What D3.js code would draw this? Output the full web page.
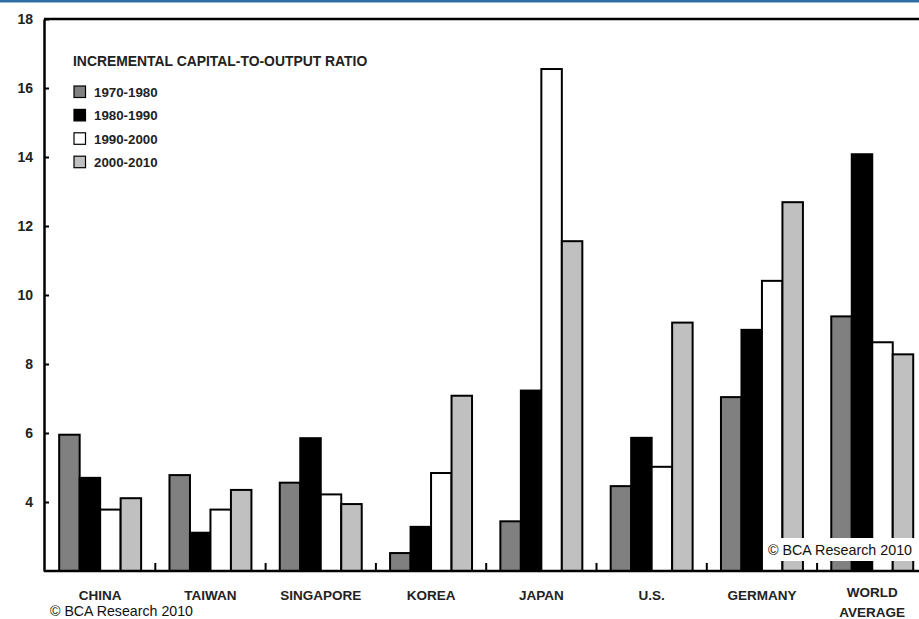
<!DOCTYPE html>
<html>
<head>
<meta charset="utf-8">
<script src="https://cdn.jsdelivr.net/npm/d3@7"></script>
<style>
  html, body { margin: 0; padding: 0; background: #fff; }
  svg { display: block; font-family: "Liberation Sans", Arial, sans-serif; }
</style>
</head>
<body>
<svg id="chart" width="919" height="619"></svg>
<script>
// Incremental capital-to-output ratio by decade
const categories = ["CHINA", "TAIWAN", "SINGAPORE", "KOREA", "JAPAN", "U.S.", "GERMANY", "WORLD AVERAGE"];
const periods = ["1970-1980", "1980-1990", "1990-2000", "2000-2010"];
const s1970 = [5.95, 4.78, 4.56, 2.52, 3.44, 4.46, 7.04, 9.38];
const s1980 = [4.70, 3.11, 5.85, 3.28, 7.23, 5.86, 8.99, 14.08];
const s1990 = [3.78, 3.78, 4.22, 4.84, 16.55, 5.02, 10.41, 8.63];
const s2000 = [4.11, 4.35, 3.94, 7.08, 11.56, 9.20, 12.69, 8.28];
const yTicks = [4, 6, 8, 10, 12, 14, 16, 18];
const fills = ["#808080", "#000000", "#ffffff", "#c0c0c0"];
const legendTitle = "INCREMENTAL CAPITAL-TO-OUTPUT RATIO";
const credit = "\u00A9 BCA Research 2010";

const seriesList = [s1970, s1980, s1990, s2000];
const rows = categories.map((c, i) => ({ cat: c, vals: seriesList.map(s => s[i]) }));

const svg = d3.select("#chart");
const plotLeft = 44, plotTop = 19, plotBase = 571;

const x0 = d3.scaleBand().domain(categories).range([45, 927.4])
  .paddingInner(0.257).paddingOuter(0.1285);
const x1 = d3.scaleBand().domain(periods).range([0, x0.bandwidth()]);
const y = d3.scaleLinear().domain([2, 18]).range([plotBase, plotTop]);

// header rule
svg.append("rect").attr("x", 0).attr("y", 0).attr("width", 919).attr("height", 2.5).attr("fill", "#2f6ea5");

// bars
const groups = svg.append("g").selectAll("g").data(rows).join("g")
  .attr("transform", d => `translate(${x0(d.cat)},0)`);
groups.selectAll("rect").data(d => d.vals.map((v, k) => ({ v, k }))).join("rect")
  .attr("x", d => x1(periods[d.k]))
  .attr("y", d => y(d.v))
  .attr("width", x1.bandwidth())
  .attr("height", d => y(2) - y(d.v))
  .attr("fill", d => fills[d.k])
  .attr("stroke", "#000")
  .attr("stroke-width", 2);

// frame top line
svg.append("line").attr("x1", plotLeft).attr("x2", 919).attr("y1", plotTop).attr("y2", plotTop)
  .attr("stroke", "#000").attr("stroke-width", 2.5);

// y axis
const yAxis = svg.append("g").attr("transform", `translate(${plotLeft},0)`)
  .call(d3.axisLeft(y).tickValues(yTicks).tickSizeInner(-5).tickSizeOuter(0).tickPadding(11));
yAxis.select(".domain").attr("stroke", "#000").attr("stroke-width", 2.5);
yAxis.selectAll(".tick line").attr("stroke", "#000").attr("stroke-width", 2);
yAxis.selectAll(".tick text").attr("font-size", 14).attr("font-weight", "bold")
  .attr("fill", "#222").attr("font-family", "'Liberation Sans', Arial, sans-serif");

// x baseline and group separators
svg.append("line").attr("x1", plotLeft).attr("x2", 919).attr("y1", plotBase).attr("y2", plotBase)
  .attr("stroke", "#000").attr("stroke-width", 2.5);
const step = x0.step();
const seps = d3.range(1, categories.length).map(i => x0.range()[0] + i * step);
svg.append("g").selectAll("line").data(seps).join("line")
  .attr("x1", d => d).attr("x2", d => d).attr("y1", plotBase).attr("y2", plotBase - 8)
  .attr("stroke", "#000").attr("stroke-width", 2);

// category labels
const catLabels = svg.append("g").selectAll("text").data(categories).join("text")
  .attr("text-anchor", "middle")
  .attr("font-size", 13.5).attr("font-weight", "bold").attr("fill", "#222");
catLabels.each(function (d) {
  const cx = x0(d) + x0.bandwidth() / 2;
  const words = d === "WORLD AVERAGE" ? ["WORLD", "AVERAGE"] : [d];
  const t = d3.select(this);
  const y0 = words.length > 1 ? 597 : 600;
  words.forEach((w, i) => {
    t.append("tspan").attr("x", cx).attr("y", y0 + i * 20).text(w);
  });
});

// legend
const lg = svg.append("g");
lg.append("text").attr("x", 73).attr("y", 66).attr("font-size", 13.9).attr("font-weight", "bold")
  .attr("fill", "#222").text(legendTitle);
const items = lg.selectAll("g").data(periods).join("g")
  .attr("transform", (d, i) => `translate(74,${86 + i * 23.4})`);
items.append("rect").attr("width", 11.5).attr("height", 11.5)
  .attr("fill", (d, i) => fills[i]).attr("stroke", "#000").attr("stroke-width", 1.2);
items.append("text").attr("x", 20).attr("y", 11).attr("font-size", 13.3).attr("font-weight", "bold")
  .attr("fill", "#222").text(d => d);

// credit box inside plot
svg.append("rect").attr("x", 763).attr("y", 538).attr("width", 156).attr("height", 23).attr("fill", "#fff");
svg.append("text").attr("x", 768).attr("y", 555).attr("font-size", 14.3).attr("fill", "#111").text(credit);

// credit at bottom left
svg.append("text").attr("x", 50).attr("y", 616).attr("font-size", 14.2).attr("fill", "#111").text(credit);
</script>
</body>
</html>
